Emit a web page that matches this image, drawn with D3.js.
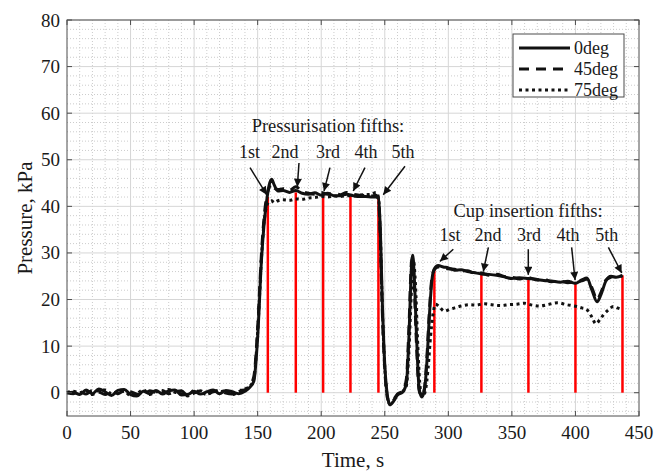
<!DOCTYPE html>
<html>
<head>
<meta charset="utf-8">
<script src="https://cdn.jsdelivr.net/npm/d3@7"></script>
<style>
  html, body { margin: 0; padding: 0; background: #fff; }
  svg text { font-family: "Liberation Serif", "Times New Roman", serif; fill: #1a1a1a; }
</style>
</head>
<body>
<svg id="chart" width="658" height="472"></svg>
<script>
// axis ticks
const timeTicks = [0, 50, 100, 150, 200, 250, 300, 350, 400, 450];
const pressureTicks = [0, 10, 20, 30, 40, 50, 60, 70, 80];

// series [time s, pressure kPa]
const p0deg = [
  [0, 0], [5, 0.1], [10, -0.4], [15, 0.6], [20, -0.2], [25, 0.8], [30, 0.2], [35, -0.6], [40, 0.5], [45, 0.7],
  [50, -0.4], [55, -0.7], [60, 0.3], [65, -0.2], [70, 0.5], [75, -0.3], [80, 0.4], [85, 0.6], [90, -0.5], [95, -0.4],
  [100, 0.3], [105, -0.3], [110, 0.2], [115, 0.6], [120, -0.2], [125, 0.5], [130, 0.2], [135, -0.2], [140, 0.3],
  [144, 1.2], [147, 2.5], [150, 12], [153, 28.5], [155, 36], [157, 41], [159, 44.5], [161, 45.8], [163, 44.6], [166, 43.3],
  [170, 43.4], [175, 43], [180, 43.4], [185, 42.8], [190, 42.6], [195, 42.9], [200, 42.4], [205, 42.8], [210, 42.3],
  [215, 42.3], [220, 42.6], [225, 42.3], [230, 42.1], [235, 42.1], [240, 42], [243, 42], [245, 41.8],
  [246.5, 35], [248, 20], [250, 6], [252, -0.5], [254, -2.6], [257, -1.8], [260, -0.5], [264, 0.1],
  [267, 2], [269, 12], [271, 27], [272, 29.5], [273, 26], [275, 12], [277, 1], [279, -0.9], [281, 0.3],
  [283, 6], [285, 16], [287, 24], [289, 26.6], [292, 27.3], [296, 27], [300, 26.8], [305, 26.3], [310, 26.4],
  [315, 26], [320, 25.8], [326, 25.5], [332, 25.4], [338, 25.2], [345, 24.8], [350, 24.5], [356, 24.7],
  [363, 24.5], [370, 24.3], [375, 24.1], [381, 24], [388, 23.7], [394, 23.9], [400, 23.5], [405, 24.2],
  [409, 24.6], [413, 22], [417, 19.5], [420, 21], [424, 24], [428, 25], [432, 24.8], [437, 25.2],
];

const p45deg = [
  [0, 0], [5, -0.2], [10, 0.3], [15, -0.3], [20, 0.5], [25, 0.2], [30, -0.4], [35, 0.3], [40, -0.2], [45, 0.4],
  [50, 0.2], [55, -0.3], [60, -0.5], [65, 0.4], [70, 0.1], [75, 0.5], [80, -0.2], [85, 0.2], [90, 0.4], [95, -0.6],
  [100, -0.1], [105, 0.4], [110, -0.3], [115, 0.2], [120, 0.5], [125, -0.1], [130, -0.3], [135, 0.5], [140, 0.6],
  [144, 1.6], [147, 3.5], [150, 14], [153, 30], [155, 37.5], [157, 42], [159, 44], [161, 44.8], [163, 44], [166, 43.6],
  [170, 43.8], [175, 43.4], [180, 44.2], [185, 43.2], [190, 42.8], [195, 42.6], [200, 43], [205, 42.6], [210, 42.8],
  [215, 42.5], [220, 43], [225, 42.6], [230, 42.4], [235, 42.3], [240, 42.2], [243, 42.4], [245, 41.6],
  [246.5, 33], [248, 18], [250, 5], [252, -1], [254, -2.2], [257, -1.4], [260, -0.3], [264, 0.3],
  [267, 3], [269, 14], [271, 28], [272, 29], [273, 24], [275, 10], [277, 0.5], [279, -0.6], [281, 0.6],
  [283, 7], [285, 17], [287, 24.5], [289, 26.4], [292, 27], [296, 26.8], [300, 26.6], [305, 26.5], [310, 26.1],
  [315, 26.2], [320, 25.7], [326, 25.7], [332, 25.2], [338, 25.4], [345, 24.9], [350, 24.8], [356, 24.4],
  [363, 24.7], [370, 24.2], [375, 24.4], [381, 23.8], [388, 24], [394, 23.6], [400, 23.8], [405, 24],
  [409, 24.4], [413, 22.5], [417, 20], [420, 21.5], [424, 24.2], [428, 24.8], [432, 25], [437, 25],
];

const p75deg = [
  [0, 0], [5, 0.3], [10, 0], [15, 0.4], [20, -0.4], [25, 0.5], [30, 0.6], [35, -0.2], [40, 0.2], [45, 0.3],
  [50, -0.6], [55, -0.2], [60, 0.6], [65, -0.4], [70, 0.2], [75, 0.2], [80, 0.7], [85, 0.1], [90, -0.2], [95, -0.7],
  [100, 0.5], [105, 0.1], [110, -0.4], [115, 0.3], [120, 0.2], [125, 0.4], [130, -0.4], [135, 0.2], [140, 0.8],
  [144, 1.4], [147, 3], [150, 13], [153, 29], [155, 36.5], [157, 40], [159, 41], [161, 41.2], [163, 40.8], [166, 41.2],
  [170, 41.4], [175, 41.3], [180, 41.6], [185, 41.5], [190, 41.8], [195, 41.9], [200, 42.1], [205, 42], [210, 42.2],
  [215, 42.1], [220, 42.3], [225, 42.2], [230, 42.4], [235, 42.5], [240, 42.6], [243, 43], [245, 42],
  [246.5, 34], [248, 19], [250, 5.5], [252, -0.8], [254, -2.4], [257, -1.6], [260, -0.4], [264, 0.2],
  [267, 1.5], [269, 9], [271, 22], [272.5, 28.5], [274, 24], [276, 10], [278, 0.8], [280, -0.7], [282, 0.5],
  [284, 5], [286, 12], [288, 17], [290, 19], [293, 18.4], [297, 17.5], [301, 17.9], [305, 18.2], [310, 18.6],
  [317, 18.9], [322, 18.8], [328, 19.1], [334, 18.9], [341, 18.7], [348, 18.9], [354, 19], [360, 19.2],
  [366, 18.8], [372, 18.6], [378, 18.9], [386, 19.3], [393, 18.9], [401, 18.5], [405, 18.2], [409, 17.8],
  [413, 16.2], [416, 14.8], [419, 15.6], [422, 16.7], [426, 17.8], [430, 18.5], [433, 18.2], [437, 17.8],
];

// red "fifths" markers
const pressTimes = [158, 180, 201.5, 223, 245];
const pressTops = [42, 43, 42.7, 42.5, 42];
const cupTimes = [289, 326, 363, 400, 437];
const cupTops = [26.5, 25.5, 24.5, 23.5, 25.2];

const fifthLabels = ['1st', '2nd', '3rd', '4th', '5th'];
const seriesNames = ['0deg', '45deg', '75deg'];

// annotation anchors in data units: label centre, arrow tail, arrow tip
const pressLabelT = [143.6, 171.5, 205.3, 235.2, 264.3];
const pressTail = [[144, 48.3], [182.5, 49.3], [206.9, 48.3], [234.4, 48.3], [265.9, 48.6]];
const pressTip = [[157.1, 42.5], [181.2, 44.2], [202.2, 43.3], [225.2, 43.3], [248.8, 42.5]];
const cupLabelT = [301.3, 331.2, 363.5, 394.2, 424.6];
const cupTail = [[303.9, 30.8], [331.5, 31.2], [362.9, 30.8], [397, 31.2], [425.9, 31.2]];
const cupTip = [[293.4, 28.2], [327.5, 26], [362.9, 25.3], [399.7, 24.2], [436.4, 25.7]];

const svg = d3.select('#chart');
const x = d3.scaleLinear().domain([0, 450]).range([67, 639]);
const y = d3.scaleLinear().domain([-5, 80]).range([416, 20]);
const [x0, x1] = x.range();
const [y0, y1] = y.range();

svg.append('rect')
  .attr('x', x0).attr('y', y1)
  .attr('width', x1 - x0).attr('height', y0 - y1)
  .attr('fill', '#fff');

// minor grid
const grid = svg.append('g').attr('class', 'grid');
grid.selectAll('.vminor')
  .data(d3.range(10, 450, 10).filter(d => d % 50 !== 0))
  .join('line')
  .attr('x1', d => x(d)).attr('x2', d => x(d))
  .attr('y1', y1).attr('y2', y0)
  .attr('stroke', '#cccccc').attr('stroke-width', 1)
  .attr('stroke-dasharray', '1,2');
grid.selectAll('.hminor')
  .data(d3.range(-4, 80, 2).filter(d => d % 10 !== 0))
  .join('line')
  .attr('x1', x0).attr('x2', x1)
  .attr('y1', d => y(d)).attr('y2', d => y(d))
  .attr('stroke', '#cccccc').attr('stroke-width', 1)
  .attr('stroke-dasharray', '1,2');

// major grid
grid.append('g').selectAll('line')
  .data(timeTicks.slice(1, -1))
  .join('line')
  .attr('x1', d => x(d)).attr('x2', d => x(d))
  .attr('y1', y1).attr('y2', y0)
  .attr('stroke', '#d6d6d6');
grid.append('g').selectAll('line')
  .data(pressureTicks)
  .join('line')
  .attr('x1', x0).attr('x2', x1)
  .attr('y1', d => y(d)).attr('y2', d => y(d))
  .attr('stroke', '#d6d6d6');

// red fifth markers
const drawFifths = (times, tops) => {
  svg.append('g').selectAll('line')
    .data(times)
    .join('line')
    .attr('x1', d => x(d)).attr('x2', d => x(d))
    .attr('y1', y(0))
    .attr('y2', (d, i) => y(tops[i]))
    .attr('stroke', '#ff0000')
    .attr('stroke-width', 2.5);
};
drawFifths(pressTimes, pressTops);
drawFifths(cupTimes, cupTops);

// series lines
const line = d3.line()
  .x(d => x(d[0]))
  .y(d => y(d[1]))
  .curve(d3.curveMonotoneX);

const dashes = ['none', '10,7', '3,3.5'];
const seriesData = [p0deg, p45deg, p75deg];

svg.append('g').selectAll('path')
  .data([2, 1, 0])
  .join('path')
  .attr('d', i => line(seriesData[i]))
  .attr('fill', 'none')
  .attr('stroke', '#111')
  .attr('stroke-width', 3)
  .attr('stroke-dasharray', i => dashes[i]);

// axes box and inward ticks
const axis = svg.append('g').attr('class', 'axis');
axis.append('rect')
  .attr('x', x0).attr('y', y1)
  .attr('width', x1 - x0).attr('height', y0 - y1)
  .attr('fill', 'none')
  .attr('stroke', '#4d4d4d')
  .attr('stroke-width', 1);

const tickLen = 5;
axis.append('g').selectAll('line')
  .data(timeTicks)
  .join('line')
  .attr('x1', d => x(d)).attr('x2', d => x(d))
  .attr('y1', y0).attr('y2', y0 - tickLen)
  .attr('stroke', '#4d4d4d');
axis.append('g').selectAll('line')
  .data(timeTicks)
  .join('line')
  .attr('x1', d => x(d)).attr('x2', d => x(d))
  .attr('y1', y1).attr('y2', y1 + tickLen)
  .attr('stroke', '#4d4d4d');
axis.append('g').selectAll('line')
  .data(pressureTicks)
  .join('line')
  .attr('x1', x0).attr('x2', x0 + tickLen)
  .attr('y1', d => y(d)).attr('y2', d => y(d))
  .attr('stroke', '#4d4d4d');
axis.append('g').selectAll('line')
  .data(pressureTicks)
  .join('line')
  .attr('x1', x1).attr('x2', x1 - tickLen)
  .attr('y1', d => y(d)).attr('y2', d => y(d))
  .attr('stroke', '#4d4d4d');

axis.append('g').selectAll('text')
  .data(timeTicks)
  .join('text')
  .attr('x', d => x(d))
  .attr('y', y0 + 23)
  .attr('text-anchor', 'middle')
  .attr('font-size', 19)
  .text(d => d);
axis.append('g').selectAll('text')
  .data(pressureTicks)
  .join('text')
  .attr('x', x0 - 7)
  .attr('y', d => y(d) + 6.5)
  .attr('text-anchor', 'end')
  .attr('font-size', 19)
  .text(d => d);

svg.append('text')
  .attr('x', (x0 + x1) / 2)
  .attr('y', 467)
  .attr('text-anchor', 'middle')
  .attr('font-size', 21)
  .text('Time, s');
svg.append('text')
  .attr('transform', `translate(32, ${(y0 + y1) / 2}) rotate(-90)`)
  .attr('text-anchor', 'middle')
  .attr('font-size', 21)
  .text('Pressure, kPa');

// annotations
svg.append('defs').append('marker')
  .attr('id', 'arrow')
  .attr('viewBox', '0 0 10 10')
  .attr('refX', 10).attr('refY', 5)
  .attr('markerWidth', 12).attr('markerHeight', 8)
  .attr('markerUnits', 'userSpaceOnUse')
  .attr('orient', 'auto')
  .append('path')
  .attr('d', 'M0,0L10,5L0,10Z')
  .attr('fill', '#111');

const drawNotes = ({ title, titleAt, labelT, labelV, tails, tips }) => {
  const g = svg.append('g');
  g.append('text')
    .attr('x', x(titleAt[0])).attr('y', y(titleAt[1]))
    .attr('text-anchor', 'middle')
    .attr('font-size', 18.5)
    .text(title);
  g.selectAll('.lbl')
    .data(fifthLabels)
    .join('text')
    .attr('x', (d, i) => x(labelT[i]))
    .attr('y', y(labelV))
    .attr('text-anchor', 'middle')
    .attr('font-size', 18)
    .text(d => d);
  g.selectAll('line')
    .data(tails)
    .join('line')
    .attr('x1', d => x(d[0])).attr('y1', d => y(d[1]))
    .attr('x2', (d, i) => x(tips[i][0])).attr('y2', (d, i) => y(tips[i][1]))
    .attr('stroke', '#111')
    .attr('stroke-width', 1.5)
    .attr('marker-end', 'url(#arrow)');
};

drawNotes({
  title: 'Pressurisation fifths:',
  titleAt: [205.3, 56],
  labelT: pressLabelT,
  labelV: 50.4,
  tails: pressTail,
  tips: pressTip,
});
drawNotes({
  title: 'Cup insertion fifths:',
  titleAt: [362.7, 37.8],
  labelT: cupLabelT,
  labelV: 32.5,
  tails: cupTail,
  tips: cupTip,
});

// legend
const legend = svg.append('g').attr('transform', 'translate(513, 34)');
legend.append('rect')
  .attr('width', 111).attr('height', 63)
  .attr('fill', '#fff')
  .attr('stroke', '#4d4d4d');
const rows = legend.selectAll('.row')
  .data(seriesNames)
  .join('g')
  .attr('transform', (d, i) => `translate(0, ${14 + i * 21})`);
rows.append('line')
  .attr('x1', 6).attr('x2', 57)
  .attr('stroke', '#111')
  .attr('stroke-width', 3)
  .attr('stroke-dasharray', (d, i) => dashes[i]);
rows.append('text')
  .attr('x', 61).attr('y', 6)
  .attr('font-size', 18)
  .text(d => d);
</script>
</body>
</html>
